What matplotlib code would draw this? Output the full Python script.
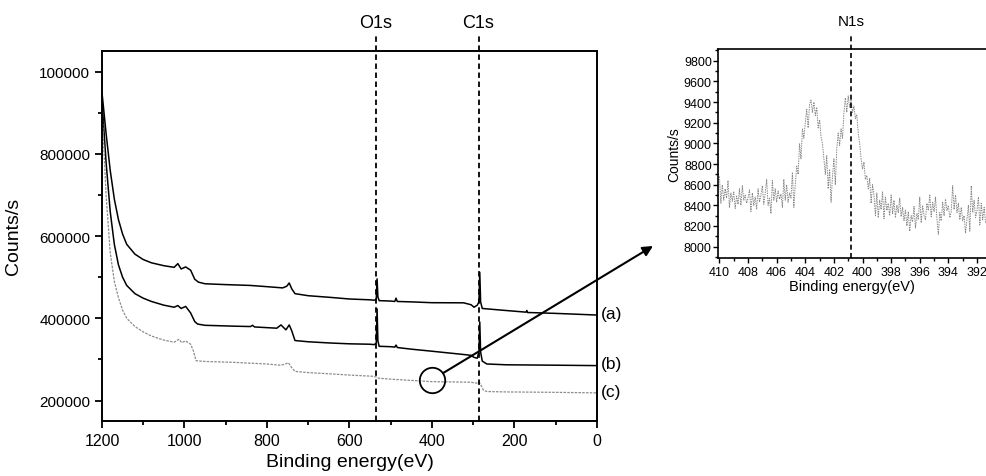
import matplotlib.pyplot as plt
import numpy as np
from matplotlib.ticker import MultipleLocator
from matplotlib.transforms import blended_transform_factory

plt.rcParams['font.family'] = ['Liberation Sans', 'DejaVu Sans']

# survey spectra: binding energy (eV) and counts/s (in thousands)
energy_a = [1200, 1190, 1180, 1170, 1160, 1150, 1140, 1120, 1100, 1080,
            1050, 1025, 1016, 1008, 997, 985, 975, 966, 950, 900,
            841, 800, 762, 752, 746, 740, 732, 700, 647, 600,
            550, 540, 535, 533, 531, 528, 500, 490, 487, 484,
            450, 400, 323, 305, 298, 290, 286, 284, 282, 278,
            267, 220, 172, 170, 168, 162, 100, 50, 0]
counts_a = [950, 850, 760, 690, 640, 605, 580, 556, 543, 535,
            528, 524, 533, 520, 525, 517, 495, 488, 484, 482,
            480, 477, 474, 478, 486, 472, 460, 455, 451, 447,
            445, 444, 446, 496, 452, 443, 442, 441, 449, 441,
            440, 438, 437.7, 433, 427, 432, 440, 512, 440, 424,
            423, 419, 415, 419, 414, 414, 412, 410, 408]

energy_b = [1200, 1190, 1180, 1170, 1160, 1150, 1140, 1120, 1100, 1080,
            1050, 1025, 1016, 1008, 997, 985, 975, 968, 950, 882,
            840, 835, 830, 776, 766, 754, 746, 740, 732, 700,
            647, 600, 550, 540, 535, 533, 531, 528, 500, 490,
            487, 484, 450, 400, 323, 305, 298, 290, 286, 284,
            282, 278, 267, 220, 100, 0]
counts_b = [930, 780, 660, 580, 530, 500, 480, 460, 449, 441,
            432, 427, 431, 424, 429, 413, 392, 386, 383, 381,
            380, 383, 379, 376, 384, 372, 384, 370, 346, 343,
            340, 338, 337, 336, 340, 423, 345, 332, 331, 330,
            335, 329, 325, 320, 312, 310, 305, 303, 320, 391,
            318, 296, 289, 287, 286, 285]

energy_c = [1200, 1190, 1180, 1170, 1160, 1150, 1140, 1120, 1100, 1080,
            1050, 1025, 1013, 1007, 997, 985, 978, 972, 950, 882,
            800, 768, 758, 748, 740, 732, 700, 647, 600, 542,
            534, 530, 500, 450, 400, 308, 295, 288, 285, 280,
            275, 267, 220, 100, 0]
counts_c = [910, 700, 560, 490, 450, 420, 400, 380, 367, 357,
            347, 342, 349, 341, 345, 337, 320, 297, 295, 293,
            289, 286, 288, 292, 280, 271, 268, 265, 262, 259,
            257, 254.5, 252, 249, 246, 244.7, 243, 242, 244, 235,
            225, 222, 221, 220, 218.7]

curve_names = ["(a)", "(b)", "(c)"]
peak_names = ["O1s", "C1s"]
peak_pos = [536, 287]
ytick_vals = [200000, 400000, 600000, 800000, 1000000]
ytick_text = ["200000", "400000", "600000", "800000", "100000"]

# N1s region, 0.1 eV steps from 410.0 eV
n1s_start = 410.0
n1s_step = 0.1
n1s_counts = [8680, 8420, 8600, 8450, 8560, 8470, 8640, 8380, 8520, 8440,
              8530, 8370, 8490, 8410, 8560, 8400, 8590, 8450, 8500, 8420,
              8470, 8550, 8340, 8520, 8400, 8480, 8360, 8560, 8430, 8500,
              8590, 8410, 8520, 8650, 8400, 8470, 8320, 8640, 8450, 8560,
              8430, 8540, 8460, 8510, 8380, 8650, 8450, 8600, 8430, 8520,
              8470, 8720, 8380, 8600, 8780, 8700, 9000, 8850, 9140, 9050,
              9200, 9330, 9150, 9380, 9420, 9300, 9400, 9270, 9350, 9150,
              9230, 9060, 9000, 8850, 8700, 8880, 8560, 8750, 8430, 8680,
              8850, 8600, 8950, 9100, 8980, 9140, 9050, 9300, 9440, 9300,
              9460, 9350, 9420, 9300, 9360, 9240, 9280, 9100, 9000, 8850,
              8750, 8820, 8650, 8690, 8560, 8660, 8420, 8600, 8500, 8300,
              8520, 8280, 8450, 8360, 8530, 8270, 8480, 8350, 8420, 8300,
              8500, 8320, 8450, 8280, 8400, 8330, 8470, 8290, 8380, 8250,
              8360, 8200, 8340, 8150, 8300, 8240, 8390, 8180, 8320, 8260,
              8480, 8230, 8400, 8300, 8260, 8420, 8350, 8500, 8290, 8430,
              8340, 8480, 8270, 8120, 8330, 8250, 8430, 8300, 8460, 8350,
              8400, 8280, 8340, 8590, 8360, 8500, 8330, 8420, 8260, 8380,
              8250, 8300, 8130, 8260, 8400, 8150, 8590, 8330, 8450, 8280,
              8350, 8480, 8210, 8420, 8260, 8380, 8230]
n1s_pos = 400.8
circle_at = (400, 250400)

n1s_energy = n1s_start - n1s_step * np.arange(len(n1s_counts))

fig = plt.figure(figsize=(9.86, 4.77), dpi=100)

# main survey plot
ax = fig.add_axes([0.1034, 0.1159, 0.502, 0.775])
series = [(energy_a, counts_a, 'black', 1.1, '-'),
          (energy_b, counts_b, 'black', 1.1, '-'),
          (energy_c, counts_c, '#8c8c8c', 0.9, (0, (2, 1)))]
trans_lab = blended_transform_factory(ax.transAxes, ax.transData)
for (e, c, col, lw, ls), name in zip(series, curve_names):
    c = np.array(c) * 1000
    ax.plot(e, c, color=col, lw=lw, ls=ls)
    ax.text(1.008, c[-1] + 4000, name, transform=trans_lab,
            va='center', ha='left', fontsize=12.5)

ax.set_xlim(1200, 0)
ax.set_ylim(151000, 1050000)
ax.xaxis.set_major_locator(MultipleLocator(200))
ax.xaxis.set_minor_locator(MultipleLocator(100))
ax.set_yticks(ytick_vals)
ax.set_yticklabels(ytick_text)
ax.yaxis.set_minor_locator(MultipleLocator(100000))
ax.tick_params(which='both', direction='out', width=1.3)
ax.tick_params(which='major', length=5)
ax.tick_params(which='minor', length=3)
ax.tick_params(axis='x', labelsize=11.5)
ax.tick_params(axis='y', labelsize=11)
for s in ax.spines.values():
    s.set_linewidth(1.4)
ax.set_xlabel("Binding energy(eV)", fontsize=14)
ax.set_ylabel("Counts/s", fontsize=14)
ax.yaxis.set_label_coords(-0.162, 0.5)

trans_pk = blended_transform_factory(ax.transData, ax.transAxes)
for name, pos in zip(peak_names, peak_pos):
    ax.axvline(pos, ymin=0, ymax=1.04, clip_on=False, color='black',
               lw=1.3, ls=(0, (3, 2)))
    ax.text(pos, 1.078, name, transform=trans_pk, ha='center', va='center',
            fontsize=13)

# circle and arrow pointing at the inset
ax.plot(circle_at[0], circle_at[1], marker='o', markersize=18.3,
        markerfacecolor='none', markeredgecolor='black', markeredgewidth=1.3)
ax.annotate('', xy=(653 / 986, 1 - 247 / 477), xycoords='figure fraction',
            xytext=circle_at, textcoords='data', annotation_clip=False,
            arrowprops=dict(arrowstyle='-|>', lw=1.5, color='black',
                            shrinkA=9.5, shrinkB=0, mutation_scale=15))

# N1s inset
ax2 = fig.add_axes([0.7282, 0.457, 0.2718, 0.438])
ax2.plot(n1s_energy, n1s_counts, color='#8a8a8a', lw=0.7, ls=(0, (1.5, 1)))
ax2.set_xlim(410.1, 391.37)
ax2.set_ylim(7890, 9913)
ax2.xaxis.set_major_locator(MultipleLocator(2))
ax2.xaxis.set_minor_locator(MultipleLocator(1))
ax2.yaxis.set_major_locator(MultipleLocator(200))
ax2.yaxis.set_minor_locator(MultipleLocator(100))
ax2.spines['right'].set_visible(False)
for s in ['left', 'top', 'bottom']:
    ax2.spines[s].set_linewidth(1.2)
ax2.tick_params(which='both', direction='out', width=1.0)
ax2.tick_params(which='major', length=3.5)
ax2.tick_params(which='minor', length=2)
ax2.tick_params(axis='x', labelsize=9, pad=2)
ax2.tick_params(axis='y', labelsize=9, pad=1)
ax2.set_xlabel("Binding energy(eV)", fontsize=10.5, labelpad=1)
ax2.set_ylabel("Counts/s", fontsize=10, labelpad=2)
ax2.axvline(n1s_pos, ymin=0, ymax=1.07, clip_on=False, color='black',
            lw=1.2, ls=(0, (3, 2)))
trans_n = blended_transform_factory(ax2.transData, ax2.transAxes)
ax2.text(n1s_pos, 1.134, "N1s", transform=trans_n, ha='center',
         va='center', fontsize=11)

fig.savefig("out.png", dpi=100)
